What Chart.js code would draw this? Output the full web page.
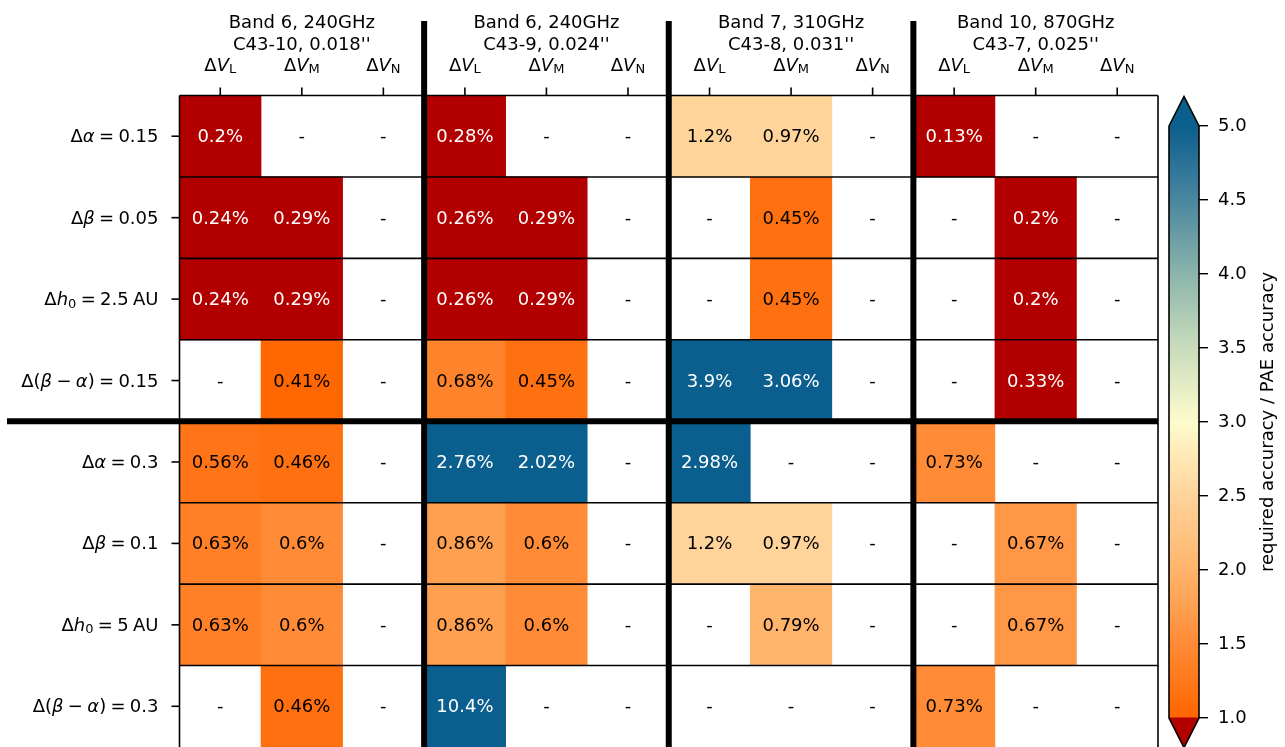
<!DOCTYPE html>
<html>
<head>
<meta charset="utf-8">
<script src="https://cdn.jsdelivr.net/npm/chart.js@4/dist/chart.umd.min.js"></script>
<style>
  html, body { margin: 0; padding: 0; background: #fff; overflow: hidden; }
  #wrap { position: relative; width: 1285px; height: 747px; }
  #wrap canvas { position: absolute; left: 0; top: 0; }
</style>
</head>
<body>
<div id="wrap">
  <canvas id="grid" width="1285" height="747"></canvas>
  <canvas id="cbar" width="1285" height="747"></canvas>
</div>
<script>
// header per column group (band, configuration)
const bands = [
  ['Band 6, 240GHz', "C43-10, 0.018''"],
  ['Band 6, 240GHz', "C43-9, 0.024''"],
  ['Band 7, 310GHz', "C43-8, 0.031''"],
  ['Band 10, 870GHz', "C43-7, 0.025''"]
];
// *x* = italic, _c = subscript
const columns = [
  'Δ*V*_L', 'Δ*V*_M', 'Δ*V*_N',
  'Δ*V*_L', 'Δ*V*_M', 'Δ*V*_N',
  'Δ*V*_L', 'Δ*V*_M', 'Δ*V*_N',
  'Δ*V*_L', 'Δ*V*_M', 'Δ*V*_N'
];
const rowLabels = [
  'Δ*α* = 0.15',
  'Δ*β* = 0.05',
  'Δ*h*_0 = 2.5 AU',
  'Δ(*β* − *α*) = 0.15',
  'Δ*α* = 0.3',
  'Δ*β* = 0.1',
  'Δ*h*_0 = 5 AU',
  'Δ(*β* − *α*) = 0.3'
];
const cellText = [
  ['0.2%', '-', '-', '0.28%', '-', '-', '1.2%', '0.97%', '-', '0.13%', '-', '-'],
  ['0.24%', '0.29%', '-', '0.26%', '0.29%', '-', '-', '0.45%', '-', '-', '0.2%', '-'],
  ['0.24%', '0.29%', '-', '0.26%', '0.29%', '-', '-', '0.45%', '-', '-', '0.2%', '-'],
  ['-', '0.41%', '-', '0.68%', '0.45%', '-', '3.9%', '3.06%', '-', '-', '0.33%', '-'],
  ['0.56%', '0.46%', '-', '2.76%', '2.02%', '-', '2.98%', '-', '-', '0.73%', '-', '-'],
  ['0.63%', '0.6%', '-', '0.86%', '0.6%', '-', '1.2%', '0.97%', '-', '-', '0.67%', '-'],
  ['0.63%', '0.6%', '-', '0.86%', '0.6%', '-', '-', '0.79%', '-', '-', '0.67%', '-'],
  ['-', '0.46%', '-', '10.4%', '-', '-', '-', '-', '-', '0.73%', '-', '-']
];
// required accuracy / PAE accuracy (colour value), null = no colour
const accuracyRatio = [
  [0.5, null, null, 0.6, null, null, 2.5, 2.5, null, 0.3, null, null],
  [0.55, 0.75, null, 0.55, 0.75, null, null, 1.15, null, null, 0.5, null],
  [0.55, 0.75, null, 0.55, 0.75, null, null, 1.15, null, null, 0.5, null],
  [null, 1.03, null, 1.4, 1.15, null, 8.5, 7.9, null, null, 0.85, null],
  [1.2, 1.15, null, 5.9, 5.2, null, 6.5, null, null, 1.5, null, null],
  [1.35, 1.5, null, 1.75, 1.5, null, 2.5, 2.5, null, null, 1.65, null],
  [1.35, 1.5, null, 1.75, 1.5, null, null, 2.0, null, null, 1.65, null],
  [null, 1.15, null, 22.6, null, null, null, null, null, 1.5, null, null]
];
const cbarMin = 1.0;
const cbarMax = 5.0;
const cbarStep = 0.5;
const cbarTitle = 'required accuracy / PAE accuracy';

const FONT = '"DejaVu Sans", sans-serif';
const FS = 18;
const cmapStops = [1.0, 1.5, 2.0, 2.5, 3.0, 3.5, 4.0, 4.5, 5.0];
const cmapColors = ['#ff6500', '#ff8b36', '#ffb46c', '#ffd49b', '#fefbcc', '#c9dcbc', '#8bb5ac', '#4a86a0', '#0b5e8d'];
const UNDER = '#b20000';
const OVER = '#0b5f8e';

function hexRgb(h) {
  return [1, 3, 5].map(i => parseInt(h.slice(i, i + 2), 16));
}
function cmap(v) {
  if (v < cbarMin) return UNDER;
  if (v > cbarMax) return OVER;
  let i = 0;
  while (i < cmapStops.length - 2 && v > cmapStops[i + 1]) i++;
  const f = (v - cmapStops[i]) / (cmapStops[i + 1] - cmapStops[i]);
  const a = hexRgb(cmapColors[i]), b = hexRgb(cmapColors[i + 1]);
  const c = a.map((x, k) => Math.round(x + (b[k] - x) * f));
  return `rgb(${c[0]},${c[1]},${c[2]})`;
}

// split a label into roman / italic / subscript / space pieces
function parseRich(s) {
  const segs = [];
  let italic = false;
  for (let i = 0; i < s.length; i++) {
    const ch = s[i];
    if (ch === '*') { italic = !italic; continue; }
    if (ch === '_') { segs.push({ t: s[++i], it: false, sub: true }); continue; }
    if (ch === ' ') { segs.push({ t: '', space: true }); continue; }
    const last = segs[segs.length - 1];
    if (last && !last.space && !last.sub && last.it === italic) last.t += ch;
    else segs.push({ t: ch, it: italic, sub: false });
  }
  return segs;
}
function drawRich(ctx, s, x, y, size, align) {
  const segs = parseRich(s);
  const fontOf = g => `${g.it ? 'italic ' : ''}${g.sub ? Math.round(size * 0.72) : size}px ${FONT}`;
  let w = 0;
  segs.forEach(g => {
    if (g.space) { g.w = size * 0.24; } else { ctx.font = fontOf(g); g.w = ctx.measureText(g.t).width; }
    w += g.w;
  });
  let cx = align === 'right' ? x - w : align === 'center' ? x - w / 2 : x;
  ctx.textAlign = 'left';
  segs.forEach(g => {
    if (!g.space) {
      ctx.font = fontOf(g);
      ctx.fillText(g.t, cx, y + (g.sub ? 2.5 : 0));
    }
    cx += g.w;
  });
}
function line(ctx, x1, y1, x2, y2) {
  ctx.beginPath();
  ctx.moveTo(x1, y1);
  ctx.lineTo(x2, y2);
  ctx.stroke();
}

const gridPlugin = {
  id: 'gridDecor',
  afterDatasetsDraw(chart) {
    const { ctx, chartArea: a, scales: { x, y } } = chart;
    const perGroup = columns.length / bands.length;
    const splitRow = rowLabels.length / 2;
    const colW = x.getPixelForValue(1) - x.getPixelForValue(0);
    ctx.save();
    ctx.strokeStyle = '#000';
    ctx.fillStyle = '#000';
    ctx.lineCap = 'butt';

    // thin row separators and frame
    ctx.lineWidth = 1.6;
    for (let k = 1; k < rowLabels.length; k++) {
      if (k === splitRow) continue;
      const py = y.getPixelForValue(k);
      line(ctx, a.left, py, a.right, py);
    }
    line(ctx, a.left, a.top, a.right, a.top);
    line(ctx, a.left, a.top, a.left, a.bottom);
    line(ctx, a.right, a.top, a.right, a.bottom);

    // tick marks
    columns.forEach((c, i) => {
      const px = x.getPixelForValue(i);
      line(ctx, px, a.top - 8, px, a.top);
    });
    rowLabels.forEach((r, i) => {
      const py = y.getPixelForValue(i + 0.5);
      line(ctx, a.left - 8, py, a.left, py);
    });

    // thick group separators
    ctx.lineWidth = 6;
    for (let g = 1; g < bands.length; g++) {
      const px = x.getPixelForValue(g * perGroup) - colW / 2;
      line(ctx, px, 21, px, a.bottom);
    }
    const sy = y.getPixelForValue(splitRow);
    line(ctx, 7, sy, a.right, sy);

    // header text
    ctx.textBaseline = 'alphabetic';
    ctx.textAlign = 'center';
    ctx.font = `${FS}px ${FONT}`;
    bands.forEach((b, g) => {
      const cx = (x.getPixelForValue(g * perGroup) + x.getPixelForValue(g * perGroup + perGroup - 1)) / 2;
      ctx.fillText(b[0], cx, 28);
      ctx.fillText(b[1], cx, 50);
    });
    columns.forEach((c, i) => drawRich(ctx, c, x.getPixelForValue(i), 70.5, FS, 'center'));
    rowLabels.forEach((r, i) => drawRich(ctx, r, a.left - 21, y.getPixelForValue(i + 0.5) + 6, FS, 'right'));

    // cell annotations
    ctx.textAlign = 'center';
    ctx.font = `${FS}px ${FONT}`;
    cellText.forEach((row, r) => {
      row.forEach((t, c) => {
        const v = accuracyRatio[r][c];
        ctx.fillStyle = v != null && (v < cbarMin || v > cbarMax) ? '#fff' : '#000';
        ctx.fillText(t, x.getPixelForValue(c), y.getPixelForValue(r + 0.5) + 6);
      });
    });
    ctx.restore();
  }
};

new Chart(document.getElementById('grid'), {
  type: 'bar',
  data: {
    labels: columns,
    datasets: rowLabels.map((_, r) => ({
      data: accuracyRatio[r].map(v => (v == null ? null : [r, r + 1])),
      backgroundColor: accuracyRatio[r].map(v => (v == null ? 'rgba(0,0,0,0)' : cmap(v))),
      barPercentage: 1,
      categoryPercentage: 1,
      grouped: false,
      borderWidth: 0
    }))
  },
  options: {
    responsive: false,
    animation: false,
    devicePixelRatio: 1,
    events: [],
    layout: { padding: { left: 179.5, top: 95.5, right: 127, bottom: 0 } },
    plugins: { legend: { display: false }, tooltip: { enabled: false } },
    scales: {
      x: { type: 'category', display: false, offset: true },
      y: { type: 'linear', min: 0, max: rowLabels.length, reverse: true, display: false }
    }
  },
  plugins: [gridPlugin]
});

const cbarPlugin = {
  id: 'cbarDecor',
  afterDatasetsDraw(chart) {
    const { ctx, chartArea: a, scales: { y } } = chart;
    const y5 = y.getPixelForValue(cbarMax);
    const y1 = y.getPixelForValue(cbarMin);
    const ext = 0.05 * (y1 - y5);
    const cx = (a.left + a.right) / 2;
    ctx.save();
    ctx.fillStyle = OVER;
    ctx.beginPath();
    ctx.moveTo(a.left, y5 + 0.5); ctx.lineTo(cx, y5 - ext); ctx.lineTo(a.right, y5 + 0.5);
    ctx.closePath(); ctx.fill();
    ctx.fillStyle = UNDER;
    ctx.beginPath();
    ctx.moveTo(a.left, y1 - 0.5); ctx.lineTo(cx, y1 + ext); ctx.lineTo(a.right, y1 - 0.5);
    ctx.closePath(); ctx.fill();
    ctx.strokeStyle = '#000';
    ctx.lineWidth = 1.6;
    ctx.lineJoin = 'miter';
    ctx.beginPath();
    ctx.moveTo(a.left, y5); ctx.lineTo(cx, y5 - ext); ctx.lineTo(a.right, y5);
    ctx.lineTo(a.right, y1); ctx.lineTo(cx, y1 + ext); ctx.lineTo(a.left, y1);
    ctx.closePath(); ctx.stroke();
    // axis title, reading bottom to top
    ctx.translate(1273, (y1 + y5) / 2);
    ctx.rotate(-Math.PI / 2);
    ctx.fillStyle = '#000';
    ctx.font = `${FS}px ${FONT}`;
    ctx.textAlign = 'center';
    ctx.textBaseline = 'alphabetic';
    ctx.fillText(cbarTitle, 0, 0);
    ctx.restore();
  }
};

function cbarGradient(chart) {
  const { ctx, chartArea, scales } = chart;
  if (!chartArea || !scales.y) return null;
  const y = scales.y;
  const g = ctx.createLinearGradient(0, y.getPixelForValue(cbarMin), 0, y.getPixelForValue(cbarMax));
  cmapStops.forEach((v, i) => g.addColorStop((v - cbarMin) / (cbarMax - cbarMin), cmapColors[i]));
  return g;
}

new Chart(document.getElementById('cbar'), {
  type: 'bar',
  data: {
    labels: [''],
    datasets: [{
      data: [[cbarMin, cbarMax]],
      backgroundColor: c => cbarGradient(c.chart),
      barPercentage: 1,
      categoryPercentage: 1,
      borderWidth: 0
    }]
  },
  options: {
    responsive: false,
    animation: false,
    devicePixelRatio: 1,
    events: [],
    layout: { padding: { left: 1169, top: 126, right: 0, bottom: 29 } },
    plugins: { legend: { display: false }, tooltip: { enabled: false } },
    scales: {
      x: { display: false },
      y: {
        position: 'right',
        min: cbarMin,
        max: cbarMax,
        ticks: {
          stepSize: cbarStep,
          callback: v => Number(v).toFixed(1),
          font: { family: FONT, size: FS },
          color: '#000',
          padding: 10
        },
        grid: { drawOnChartArea: false, drawTicks: true, tickLength: 9, color: '#000', lineWidth: 1.4 },
        border: { display: false },
        afterFit: s => { s.width = 86; }
      }
    }
  },
  plugins: [cbarPlugin]
});
</script>
</body>
</html>
